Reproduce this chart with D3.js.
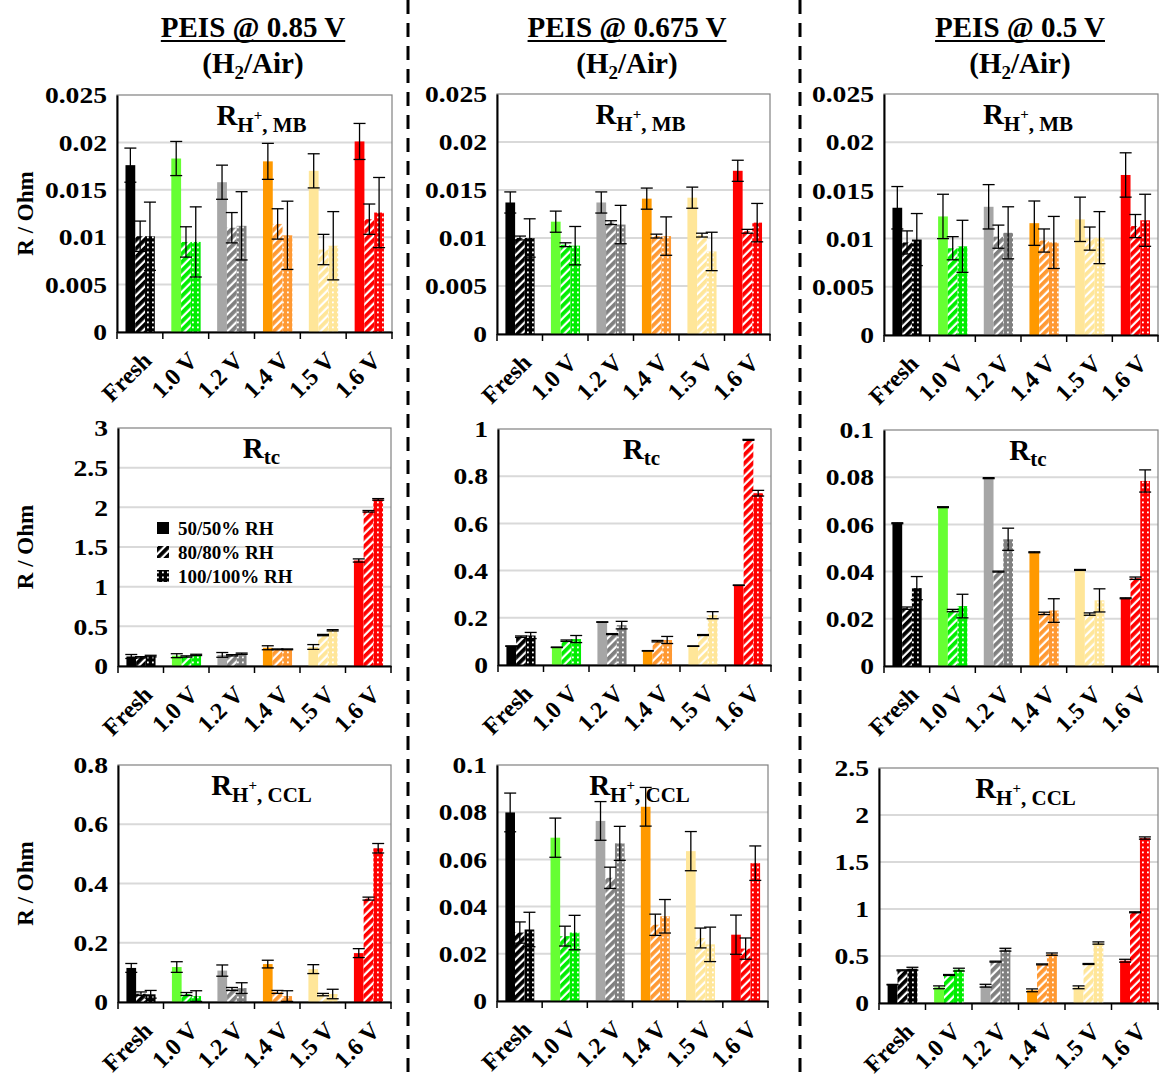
<!DOCTYPE html>
<html>
<head>
<meta charset="utf-8">
<script src="https://cdn.jsdelivr.net/npm/d3@7"></script>
<style>
  html, body { margin: 0; padding: 0; background: #fff; }
  svg { display: block; }
  text { font-family: "Liberation Serif", "Times New Roman", serif; font-weight: bold; fill: #000; }
</style>
</head>
<body>
<script>
// ---------------- DATA ----------------
const categories = ["Fresh", "1.0 V", "1.2 V", "1.4 V", "1.5 V", "1.6 V"];
const seriesNames = ["50/50% RH", "80/80% RH", "100/100% RH"];
const columnTitles = ["PEIS @ 0.85 V", "PEIS @ 0.675 V", "PEIS @ 0.5 V"];
const solidColors   = ["#000000", "#66FF33", "#A6A6A6", "#FF9900", "#FFE699", "#FF0000"];
const patternColors = ["#000000", "#00EE00", "#808080", "#FF9933", "#FFE699", "#FF0000"];

// R_H+,MB  (rows: 50/50, 80/80, 100/100 RH)
const mb_085      = [[0.0176, 0.0183, 0.0158, 0.0180, 0.0170, 0.0201],
                     [0.0101, 0.0095, 0.0110, 0.0114, 0.0087, 0.0119],
                     [0.0101, 0.0095, 0.0112, 0.0102, 0.0091, 0.0126]];
const mb_085_err  = [[0.0018, 0.0018, 0.0018, 0.0019, 0.0018, 0.0019],
                     [0.0016, 0.0016, 0.0016, 0.0016, 0.0016, 0.0016],
                     [0.0036, 0.0037, 0.0036, 0.0036, 0.0036, 0.0037]];
const mb_0675     = [[0.0137, 0.0117, 0.0137, 0.0141, 0.0142, 0.0170],
                     [0.0100, 0.0093, 0.0116, 0.0102, 0.0103, 0.0107],
                     [0.0100, 0.0092, 0.0114, 0.0102, 0.0086, 0.0116]];
const mb_0675_err = [[0.0011, 0.0011, 0.0011, 0.0011, 0.0011, 0.0011],
                     [0.0002, 0.0002, 0.0002, 0.0002, 0.0002, 0.0002],
                     [0.0020, 0.0020, 0.0020, 0.0020, 0.0020, 0.0020]];
const mb_05       = [[0.0132, 0.0123, 0.0133, 0.0116, 0.0120, 0.0166],
                     [0.0096, 0.0090, 0.0102, 0.0098, 0.0100, 0.0113],
                     [0.0099, 0.0092, 0.0106, 0.0096, 0.0101, 0.0119]];
const mb_05_err   = [[0.0022, 0.0023, 0.0023, 0.0023, 0.0023, 0.0023],
                     [0.0012, 0.0012, 0.0012, 0.0012, 0.0012, 0.0012],
                     [0.0027, 0.0027, 0.0027, 0.0027, 0.0027, 0.0027]];

// R_tc
const tc_085      = [[0.12, 0.13, 0.14, 0.23, 0.24, 1.33],
                     [0.11, 0.12, 0.135, 0.21, 0.39, 1.95],
                     [0.125, 0.14, 0.155, 0.21, 0.45, 2.10]];
const tc_085_err  = [[0.025, 0.025, 0.03, 0.025, 0.03, 0.02],
                     [0.008, 0.008, 0.008, 0.005, 0.008, 0.01],
                     [0.01, 0.008, 0.008, 0.005, 0.008, 0.01]];
const tc_0675     = [[0.080, 0.075, 0.182, 0.060, 0.080, 0.338],
                     [0.120, 0.103, 0.131, 0.101, 0.127, 0.954],
                     [0.125, 0.110, 0.169, 0.106, 0.211, 0.728]];
const tc_0675_err = [[0.001, 0.001, 0.001, 0.001, 0.001, 0.001],
                     [0.003, 0.003, 0.002, 0.003, 0.002, 0.002],
                     [0.013, 0.015, 0.016, 0.015, 0.015, 0.012]];
const tc_05       = [[0.0605, 0.0673, 0.0796, 0.0482, 0.0407, 0.0287],
                     [0.0245, 0.0235, 0.0400, 0.0223, 0.0220, 0.0372],
                     [0.0330, 0.0254, 0.0537, 0.0235, 0.0278, 0.0784]];
const tc_05_err   = [[0.0002, 0.0002, 0.0002, 0.0002, 0.0002, 0.0002],
                     [0.0005, 0.0005, 0.0002, 0.0005, 0.0005, 0.0005],
                     [0.0049, 0.0050, 0.0047, 0.0050, 0.0049, 0.0047]];

// R_H+,CCL
const ccl_085      = [[0.115, 0.118, 0.106, 0.128, 0.111, 0.165],
                      [0.028, 0.027, 0.044, 0.034, 0.025, 0.349],
                      [0.026, 0.020, 0.047, 0.020, 0.027, 0.519]];
const ccl_085_err  = [[0.015, 0.018, 0.019, 0.013, 0.015, 0.015],
                      [0.006, 0.005, 0.005, 0.005, 0.004, 0.005],
                      [0.013, 0.018, 0.018, 0.018, 0.016, 0.016]];
const ccl_0675     = [[0.0799, 0.0692, 0.0763, 0.0823, 0.0635, 0.0281],
                      [0.0290, 0.0275, 0.0522, 0.0323, 0.0267, 0.0222],
                      [0.0303, 0.0290, 0.0668, 0.0359, 0.0240, 0.0584]];
const ccl_0675_err = [[0.0082, 0.0083, 0.0082, 0.0082, 0.0083, 0.0083],
                      [0.0045, 0.0042, 0.0045, 0.0045, 0.0042, 0.0045],
                      [0.0073, 0.0073, 0.0072, 0.0071, 0.0073, 0.0073]];
const ccl_05       = [[0.195, 0.167, 0.184, 0.135, 0.167, 0.450],
                      [0.348, 0.298, 0.440, 0.411, 0.415, 0.965],
                      [0.365, 0.355, 0.567, 0.520, 0.638, 1.755]];
const ccl_05_err   = [[0.003, 0.015, 0.015, 0.015, 0.015, 0.015],
                      [0.005, 0.005, 0.005, 0.005, 0.005, 0.005],
                      [0.015, 0.015, 0.015, 0.012, 0.012, 0.012]];

// Tick values
const ticks_mb     = [0, 0.005, 0.01, 0.015, 0.02, 0.025];
const ticks_tc085  = [0, 0.5, 1, 1.5, 2, 2.5, 3];
const ticks_tc0675 = [0, 0.2, 0.4, 0.6, 0.8, 1];
const ticks_tc05   = [0, 0.02, 0.04, 0.06, 0.08, 0.1];
const ticks_ccl085 = [0, 0.2, 0.4, 0.6, 0.8];
const ticks_ccl0675 = [0, 0.02, 0.04, 0.06, 0.08, 0.1];
const ticks_ccl05  = [0, 0.5, 1, 1.5, 2, 2.5];

// ---------------- LAYOUT ----------------
const W = 1161, H = 1079;
const panels = [
  { vals: mb_085,   errs: mb_085_err,   ticks: ticks_mb,     kind: "MB",  col: 0, rect: [117, 95, 392, 332] },
  { vals: mb_0675,  errs: mb_0675_err,  ticks: ticks_mb,     kind: "MB",  col: 1, rect: [497, 94, 770, 334] },
  { vals: mb_05,    errs: mb_05_err,    ticks: ticks_mb,     kind: "MB",  col: 2, rect: [884, 94, 1158, 335] },
  { vals: tc_085,   errs: tc_085_err,   ticks: ticks_tc085,  kind: "tc",  col: 0, rect: [118, 428, 391, 666], legend: true },
  { vals: tc_0675,  errs: tc_0675_err,  ticks: ticks_tc0675, kind: "tc",  col: 1, rect: [498, 429, 771, 665] },
  { vals: tc_05,    errs: tc_05_err,    ticks: ticks_tc05,   kind: "tc",  col: 2, rect: [884, 430, 1158, 666] },
  { vals: ccl_085,  errs: ccl_085_err,  ticks: ticks_ccl085, kind: "CCL", col: 0, rect: [118, 765, 391, 1002] },
  { vals: ccl_0675, errs: ccl_0675_err, ticks: ticks_ccl0675,kind: "CCL", col: 1, rect: [497, 765, 768, 1001] },
  { vals: ccl_05,   errs: ccl_05_err,   ticks: ticks_ccl05,  kind: "CCL", col: 2, rect: [879, 768, 1158, 1003] }
];
const colTitleX = [253, 627, 1020];

const svg = d3.select("body").append("svg").attr("width", W).attr("height", H);
svg.append("rect").attr("width", W).attr("height", H).attr("fill", "#fff");

// ---------------- PATTERNS ----------------
const defs = svg.append("defs");
function hatchId(c) { return "hatch" + c.replace("#", ""); }
function dotId(c) { return "dot" + c.replace("#", ""); }
const allColors = Array.from(new Set(patternColors));
allColors.forEach(c => {
  const h = defs.append("pattern").attr("id", hatchId(c))
    .attr("patternUnits", "userSpaceOnUse").attr("width", 6).attr("height", 6)
    .attr("patternTransform", "rotate(45)");
  h.append("rect").attr("width", 6).attr("height", 6).attr("fill", "#fff");
  h.append("rect").attr("width", 3.8).attr("height", 6).attr("fill", c);
  const d = defs.append("pattern").attr("id", dotId(c))
    .attr("patternUnits", "userSpaceOnUse").attr("width", 5).attr("height", 5);
  d.append("rect").attr("width", 5).attr("height", 5).attr("fill", c);
  d.append("rect").attr("x", 2).attr("y", 1.5).attr("width", 1.8).attr("height", 1.8).attr("fill", "#fff");
});
function fillFor(si, ci) {
  if (si === 0) return solidColors[ci];
  if (si === 1) return `url(#${hatchId(patternColors[ci])})`;
  return `url(#${dotId(patternColors[ci])})`;
}

// ---------------- PANELS ----------------
panels.forEach(p => {
  const [x0, y0, x1, y1] = p.rect;
  const g = svg.append("g");
  const yMax = p.ticks[p.ticks.length - 1];
  const y = d3.scaleLinear().domain([0, yMax]).range([y1, y0]);
  const x = d3.scaleBand().domain(categories).range([x0, x1]).padding(0);
  const bw = x.bandwidth();
  const xs = d3.scaleBand().domain(d3.range(seriesNames.length)).range([bw * 0.185, bw * 0.825]).padding(0);

  // gridlines
  g.append("g").selectAll("line").data(p.ticks.filter(t => t > 0 && t < yMax)).join("line")
    .attr("x1", x0).attr("x2", x1).attr("y1", d => y(d)).attr("y2", d => y(d))
    .attr("stroke", "#d9d9d9").attr("stroke-width", 2);

  // frame
  g.append("rect").attr("x", x0).attr("y", y0).attr("width", x1 - x0).attr("height", y1 - y0)
    .attr("fill", "none").attr("stroke", "#808080").attr("stroke-width", 1.2);

  // bars
  const bars = [];
  p.vals.forEach((row, si) => row.forEach((v, ci) => bars.push({ si, ci, v, e: p.errs[si][ci] })));
  g.append("g").selectAll("rect").data(bars).join("rect")
    .attr("x", d => x(categories[d.ci]) + xs(d.si))
    .attr("width", xs.bandwidth())
    .attr("y", d => y(d.v))
    .attr("height", d => y(0) - y(d.v))
    .attr("fill", d => fillFor(d.si, d.ci));

  // error bars
  const eg = g.append("g").attr("stroke", "#000").attr("stroke-width", 1.3);
  bars.forEach(d => {
    const cx = x(categories[d.ci]) + xs(d.si) + xs.bandwidth() / 2;
    const cw = 6;
    const top = y(d.v + d.e), bot = y(Math.max(0, d.v - d.e));
    eg.append("line").attr("x1", cx).attr("x2", cx).attr("y1", top).attr("y2", bot);
    eg.append("line").attr("x1", cx - cw).attr("x2", cx + cw).attr("y1", top).attr("y2", top);
    eg.append("line").attr("x1", cx - cw).attr("x2", cx + cw).attr("y1", bot).attr("y2", bot);
  });

  // y axis
  const yAxis = d3.axisLeft(y).tickValues(p.ticks).tickSize(0).tickPadding(0).tickFormat(d => String(d));
  const ya = g.append("g").attr("transform", `translate(${x0},0)`).call(yAxis);
  ya.select(".domain").attr("stroke", "#000").attr("stroke-width", 2);
  ya.selectAll("text").attr("font-size", 24).attr("font-family", null).attr("fill", "#000")
    .attr("x", 0).attr("transform", "translate(-10,0) scale(1.15,1)");

  // x axis
  const xAxis = d3.axisBottom(x).tickSize(0).tickFormat("");
  const xa = g.append("g").attr("transform", `translate(0,${y1})`).call(xAxis);
  xa.select(".domain").attr("stroke", "#000").attr("stroke-width", 2);
  xa.selectAll(".tick").remove();
  const bounds = categories.map(c => x(c)).concat([x1]);
  xa.selectAll("line.sep").data(bounds).join("line").attr("class", "sep")
    .attr("x1", d => d).attr("x2", d => d).attr("y1", 0).attr("y2", 7)
    .attr("stroke", "#000").attr("stroke-width", 1.5);
  xa.selectAll("text.cat").data(categories).join("text").attr("class", "cat")
    .attr("transform", c => `translate(${x(c) + bw / 2 + 13},${30}) rotate(-45)`)
    .attr("text-anchor", "end").attr("font-size", 24).text(c => c);

  // panel title
  const t = g.append("text").attr("x", (x0 + x1) / 2 + 7).attr("y", y0 + 30).attr("text-anchor", "middle");
  t.append("tspan").attr("font-size", 29).text("R");
  if (p.kind === "tc") {
    t.append("tspan").attr("font-size", 21).attr("dy", 6).text("tc");
  } else {
    t.append("tspan").attr("font-size", 21).attr("dy", 7).text("H");
    t.append("tspan").attr("font-size", 15).attr("dy", -12).text("+");
    t.append("tspan").attr("font-size", 21).attr("dy", 12).text(p.kind === "MB" ? ", MB" : ", CCL");
  }

  // y label (first column)
  if (p.col === 0) {
    g.append("text").attr("transform", `translate(33,${(y0 + y1) / 2}) rotate(-90)`)
      .attr("text-anchor", "middle").attr("font-size", 23).text("R / Ohm");
  }

  // legend
  if (p.legend) {
    const lg = g.append("g");
    seriesNames.forEach((s, si) => {
      const cy = 528 + si * 24;
      lg.append("rect").attr("x", 157).attr("y", cy - 6).attr("width", 12).attr("height", 12)
        .attr("fill", fillFor(si, 0));
      lg.append("text").attr("x", 178).attr("y", cy).attr("dy", "0.35em").attr("font-size", 19).text(s);
    });
  }
});

// ---------------- COLUMN TITLES ----------------
columnTitles.forEach((ttl, i) => {
  const t = svg.append("text").attr("x", colTitleX[i]).attr("y", 37).attr("text-anchor", "middle")
    .attr("font-size", 29).text(ttl);
  const bb = t.node().getBBox();
  svg.append("line").attr("x1", bb.x).attr("x2", bb.x + bb.width).attr("y1", 41).attr("y2", 41)
    .attr("stroke", "#000").attr("stroke-width", 2);
  const s = svg.append("text").attr("x", colTitleX[i]).attr("y", 73).attr("text-anchor", "middle").attr("font-size", 29);
  s.append("tspan").text("(H");
  s.append("tspan").attr("font-size", 19).attr("dy", 6).text("2");
  s.append("tspan").attr("dy", -6).text("/Air)");
});

// ---------------- SEPARATORS ----------------
[408, 800].forEach(sx => {
  svg.append("line").attr("x1", sx).attr("x2", sx).attr("y1", 0).attr("y2", H)
    .attr("stroke", "#000").attr("stroke-width", 3).attr("stroke-dasharray", "14,9");
});
</script>
</body>
</html>
